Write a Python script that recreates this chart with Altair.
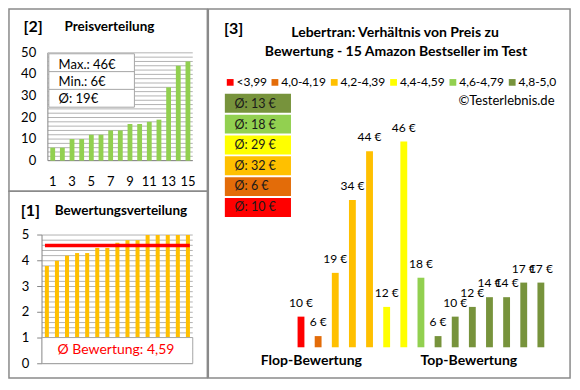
import altair as alt
import pandas as pd

# ---------------- data ----------------
positions = list(range(1, 16))
prices_sorted = [6, 6, 10, 10, 12, 12, 14, 14, 17, 17, 18, 19, 34, 44, 46]
ratings_sorted = [3.8, 4.0, 4.2, 4.3, 4.3, 4.5, 4.5, 4.7, 4.8, 4.8, 5.0, 5.0, 5.0, 5.0, 5.0]
ratio_prices = [10, 6, 19, 34, 44, 12, 46, 18, 6, 10, 12, 14, 14, 17, 17]
ratio_groups = ["<3,99", "4,0-4,19", "4,2-4,39", "4,2-4,39", "4,2-4,39",
                "4,4-4,59", "4,4-4,59", "4,6-4,79",
                "4,8-5,0", "4,8-5,0", "4,8-5,0", "4,8-5,0", "4,8-5,0", "4,8-5,0", "4,8-5,0"]
group_labels = ["<3,99", "4,0-4,19", "4,2-4,39", "4,4-4,59", "4,6-4,79", "4,8-5,0"]
group_colors = ["#FF0000", "#E36C09", "#FFC000", "#FFFF00", "#92D050", "#77933C"]
price_ticks = [0, 10, 20, 30, 40, 50]
price_minor = list(range(0, 51, 2))
price_xlabels = [1, 3, 5, 7, 9, 11, 13, 15]
rating_ticks = [0, 1, 2, 3, 4, 5]
rating_minor = [i / 5 for i in range(26)]
ratio_axis_min = 3.7
ratio_axis_max = 50

# ---------------- layout helpers ----------------
W, H = 564, 372
SX, SY = W / 580, H / 390
legend_entry_x = [225, 271, 332, 393, 454, 515]   # layout: left edge of each legend square


def X(v):
    return round(v * SX, 2)


def Y(v):
    return round(v * SY, 2)


FONT = "Lato"
GRID = "#b3b3b3"
AXIS = "#868686"
FRAME = "#8a8a8a"
one = pd.DataFrame({"k": [0]})


def deco_rect(x1, y1, x2, y2, fill="transparent", stroke=FRAME, sw=1.5):
    return alt.Chart(one).mark_rect(fill=fill, stroke=stroke, strokeWidth=sw).encode(
        x=alt.value(X(x1)), x2=alt.value(X(x2)), y=alt.value(Y(y1)), y2=alt.value(Y(y2)))


def deco_line(x1, y1, x2, y2, color=AXIS, sw=1.0):
    return alt.Chart(one).mark_rule(color=color, strokeWidth=sw).encode(
        x=alt.value(X(x1)), x2=alt.value(X(x2)), y=alt.value(Y(y1)), y2=alt.value(Y(y2)))


def deco_text(txt, x, y, size=13, bold=False, align="left", color="#000000"):
    return alt.Chart(one).mark_text(
        text=txt, font=FONT, fontSize=size, fontWeight="bold" if bold else "normal",
        align=align, baseline="middle", color=color).encode(x=alt.value(X(x)), y=alt.value(Y(y)))


layers = []

# ================= Panel [2] Preisverteilung =================
p2_x = alt.Scale(domain=positions, range=[X(41), X(190)], paddingInner=0.5, paddingOuter=0.25)
p2_y = alt.Scale(domain=[0, 50], range=[Y(160), Y(47)])
df_p2 = pd.DataFrame({"pos": positions, "price": prices_sorted})

layers.append(alt.Chart(pd.DataFrame({"v": price_minor})).mark_rule(color=GRID, strokeWidth=1).encode(
    y=alt.Y("v:Q", scale=p2_y, axis=None), x=alt.value(X(41)), x2=alt.value(X(190))))
layers.append(alt.Chart(pd.DataFrame({"v": [0]})).mark_rule(color=AXIS, strokeWidth=1).encode(
    y=alt.Y("v:Q", scale=p2_y, axis=None), x=alt.value(X(41)), x2=alt.value(X(190))))
layers.append(deco_line(41, 47, 41, 160))
layers.append(alt.Chart(df_p2).mark_bar(color="#92D050").encode(
    x=alt.X("pos:O", scale=p2_x, axis=None), y=alt.Y("price:Q", scale=p2_y, axis=None)))
layers.append(alt.Chart(pd.DataFrame({"v": price_ticks})).mark_text(
    font=FONT, fontSize=13, align="right", baseline="middle", color="#000000").encode(
    y=alt.Y("v:Q", scale=p2_y, axis=None), x=alt.value(X(29)), text="v:Q"))
layers.append(alt.Chart(pd.DataFrame({"pos": price_xlabels})).mark_text(
    font=FONT, fontSize=13, align="center", baseline="middle", color="#000000").encode(
    x=alt.X("pos:O", scale=p2_x, axis=None), y=alt.value(Y(182)), text="pos:O"))
# info box
layers.append(deco_rect(42, 48, 130, 104, fill="white", stroke="#a6a6a6", sw=1))
layers.append(deco_line(42, 66.7, 130, 66.7, color="#a6a6a6"))
layers.append(deco_line(42, 85.3, 130, 85.3, color="#a6a6a6"))
p_avg = round(sum(prices_sorted) / len(prices_sorted))
layers.append(deco_text(f"Max.: {max(prices_sorted)}€", 52, 59.3, size=13))
layers.append(deco_text(f"Min.: {min(prices_sorted)}€", 52, 77.7, size=13))
layers.append(deco_text(f"Ø: {p_avg}€", 52, 95.7, size=13))
# titles
layers.append(deco_text("[2]", 16, 20, size=16, bold=True))
layers.append(deco_text("Preisverteilung", 58, 20, size=13.5, bold=True))

# ================= Panel [1] Bewertungsverteilung =================
p1_x = alt.Scale(domain=positions, range=[X(34.8), X(190.2)], paddingInner=0.6, paddingOuter=0.3)
p1_y = alt.Scale(domain=[0, 5], range=[Y(373), Y(238)])
df_p1 = pd.DataFrame({"pos": positions, "rating": ratings_sorted})
r_avg = sum(ratings_sorted) / len(ratings_sorted)

layers.append(alt.Chart(pd.DataFrame({"v": rating_minor})).mark_rule(color=GRID, strokeWidth=1).encode(
    y=alt.Y("v:Q", scale=p1_y, axis=None), x=alt.value(X(35)), x2=alt.value(X(190))))
layers.append(alt.Chart(pd.DataFrame({"v": rating_ticks})).mark_rule(color=AXIS, strokeWidth=1).encode(
    y=alt.Y("v:Q", scale=p1_y, axis=None), x=alt.value(X(30)), x2=alt.value(X(35))))
layers.append(deco_line(35, 238, 35, 373))
layers.append(alt.Chart(df_p1).mark_bar(color="#FFC000").encode(
    x=alt.X("pos:O", scale=p1_x, axis=None), y=alt.Y("rating:Q", scale=p1_y, axis=None)))
layers.append(alt.Chart(pd.DataFrame({"v": [r_avg]})).mark_rule(color="#FF0000", strokeWidth=3.5).encode(
    y=alt.Y("v:Q", scale=p1_y, axis=None), x=alt.value(X(38)), x2=alt.value(X(187))))
layers.append(alt.Chart(pd.DataFrame({"v": rating_ticks})).mark_text(
    font=FONT, fontSize=13, align="right", baseline="middle", color="#000000").encode(
    y=alt.Y("v:Q", scale=p1_y, axis=None), x=alt.value(X(22)), text="v:Q"))
layers.append(deco_rect(35, 345.5, 190, 372.7, fill="white", stroke="#a6a6a6", sw=1))
avg_txt = f"{r_avg:.2f}".replace(".", ",")
layers.append(deco_text(f"Ø Bewertung: {avg_txt}", 111, 359, size=14, align="center", color="#FF0000"))
layers.append(deco_text("[1]", 13, 213, size=16, bold=True))
layers.append(deco_text("Bewertungsverteilung", 48, 213, size=13.5, bold=True))

# ================= Panel [3] Preis / Bewertung =================
p3_x = alt.Scale(domain=positions, range=[X(292.5), X(556.8)], paddingInner=0.6, paddingOuter=0.3)
p3_y = alt.Scale(domain=[ratio_axis_min, ratio_axis_max], range=[Y(355.7), Y(119.6)])
df_p3 = pd.DataFrame({"pos": positions, "price": ratio_prices, "group": ratio_groups})
df_p3["lab"] = [f"{p} €" for p in ratio_prices]

layers.append(alt.Chart(df_p3).mark_bar().encode(
    x=alt.X("pos:O", scale=p3_x, axis=None),
    y=alt.Y("price:Q", scale=p3_y, axis=None),
    y2=alt.datum(ratio_axis_min),
    color=alt.Color("group:N", scale=alt.Scale(domain=group_labels, range=group_colors), legend=None)))
layers.append(alt.Chart(df_p3).mark_text(
    font=FONT, fontSize=12, align="center", baseline="middle", dy=-14, color="#000000").encode(
    x=alt.X("pos:O", scale=p3_x, axis=None), y=alt.Y("price:Q", scale=p3_y, axis=None), text="lab:N"))

# legend row (squares + labels)
for lx, lab, col in zip(legend_entry_x, group_labels, group_colors):
    layers.append(deco_rect(lx, 74.5, lx + 7, 81.5, fill=col, stroke=col, sw=0))
    layers.append(deco_text(lab, lx + 10, 78, size=12))

# average boxes
box_order = group_labels[::-1]
box_colors = group_colors[::-1]
avgs = []
for g in box_order:
    vals = [p for p, gg in zip(ratio_prices, ratio_groups) if gg == g]
    avgs.append(round(sum(vals) / len(vals)))
df_box = pd.DataFrame({"k": list(range(6)), "txt": [f"Ø: {a} €" for a in avgs], "col": box_colors})
box_y = alt.Scale(domain=list(range(6)), range=[Y(90), Y(219)], paddingInner=0.09, paddingOuter=0)
layers.append(alt.Chart(df_box).mark_rect().encode(
    y=alt.Y("k:O", scale=box_y, axis=None), x=alt.value(X(223)), x2=alt.value(X(291)),
    color=alt.Color("col:N", scale=None)))
layers.append(alt.Chart(df_box).mark_text(
    font=FONT, fontSize=12.5, align="left", baseline="middle", color="#1a1a1a").encode(
    y=alt.Y("k:O", scale=box_y, axis=None), x=alt.value(X(233)), text="txt:N"))

layers.append(deco_text("[3]", 222, 22, size=16, bold=True))
layers.append(deco_text("Lebertran: Verhältnis von Preis zu", 398, 26, size=14, bold=True, align="center"))
layers.append(deco_text("Bewertung - 15 Amazon Bestseller im Test", 399, 46, size=14, bold=True, align="center"))
layers.append(deco_text("©Testerlebnis.de", 562, 98, size=13, align="right"))
layers.append(deco_text("Flop-Bewertung", 312, 370, size=14, bold=True, align="center"))
layers.append(deco_text("Top-Bewertung", 474, 370, size=14, bold=True, align="center"))

# frames
layers.append(deco_rect(1, 1, 205, 192))
layers.append(deco_rect(1, 192, 205, 388))
layers.append(deco_rect(206, 1, 578, 388))

chart = alt.layer(*layers).resolve_scale(
    x="independent", y="independent", color="independent"
).properties(
    width=W, height=H, padding=0, autosize="none", background="white"
).configure_view(stroke=None)

chart.save("out.html", embed_options={"renderer": "svg", "actions": False})
